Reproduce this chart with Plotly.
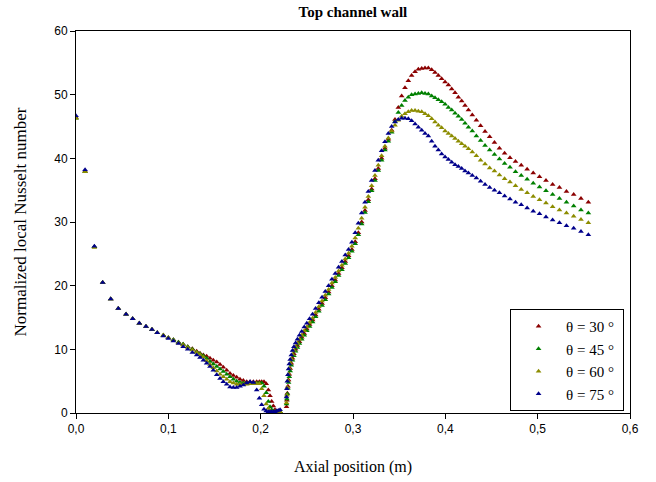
import plotly.graph_objects as go

# Shared axial positions (m)
x_pos = [
    0.0, 0.0098, 0.0199, 0.0289, 0.0376, 0.0458, 0.0542, 0.0614, 0.0686, 0.0758,
    0.0823, 0.0880, 0.0946, 0.1000, 0.1055, 0.1110, 0.1160, 0.1210, 0.1260, 0.1307,
    0.1343, 0.1379, 0.1415, 0.1451, 0.1487, 0.1524, 0.1560, 0.1595, 0.1632, 0.1668,
    0.1704, 0.1740, 0.1776, 0.1812, 0.1849, 0.1885, 0.1921, 0.1957, 0.1986, 0.2011,
    0.2036, 0.2060, 0.2083, 0.2101, 0.2119, 0.2137, 0.2155, 0.2173, 0.2191, 0.2210,
    0.2280, 0.2284, 0.2289, 0.2295, 0.2302, 0.2310, 0.2320, 0.2332, 0.2345, 0.2360,
    0.2378, 0.2398, 0.2420, 0.2445, 0.2472, 0.2500, 0.2530, 0.2562, 0.2595, 0.2630,
    0.2665, 0.2700, 0.2736, 0.2772, 0.2808, 0.2844, 0.2880, 0.2916, 0.2952, 0.2988,
    0.3024, 0.3058, 0.3094, 0.3130, 0.3166, 0.3202, 0.3238, 0.3274, 0.3310, 0.3346,
    0.3383, 0.3419, 0.3455,
    0.3491, 0.3527, 0.3563, 0.3599, 0.3635, 0.3672, 0.3708, 0.3744, 0.3780, 0.3816,
    0.3852, 0.3888, 0.3924, 0.3960, 0.3997, 0.4033, 0.4069, 0.4105, 0.4141, 0.4177,
    0.4213, 0.4250,
    0.4292, 0.4336, 0.4382, 0.4430, 0.4480, 0.4532, 0.4586, 0.4642, 0.4700, 0.4760,
    0.4822, 0.4886, 0.4952, 0.5020, 0.5090, 0.5162, 0.5236, 0.5312, 0.5390, 0.5469,
    0.5549,
]

nu_30 = [
    46.4, 38.0, 26.1, 20.5, 17.9, 16.4, 15.5, 14.8, 14.1, 13.6,
    13.1, 12.6, 12.2, 11.8, 11.5, 11.1, 10.8, 10.4, 10.1, 9.7,
    9.4, 9.1, 8.9, 8.6, 8.3, 8.0, 7.6, 7.2, 6.7, 6.2,
    5.9, 5.6, 5.3, 5.1, 4.9, 4.9, 4.9, 4.9, 4.9, 4.9,
    4.9, 4.6, 3.6, 2.7, 1.8, 1.1, 0.5, 0.3, 0.2, 0.2,
    1.0, 2.0, 3.1, 4.2, 5.2, 6.1, 7.0, 7.8, 8.6, 9.3,
    10.0, 10.6, 11.2, 11.9, 12.5, 13.2, 13.9, 14.6, 15.4, 16.3,
    17.2, 18.1, 19.0, 20.0, 20.9, 21.9, 22.8, 23.8, 24.7, 25.7,
    26.9, 28.3, 30.0, 31.8, 33.5, 35.2, 36.8, 38.4, 40.0, 41.6,
    43.0, 44.4, 46.1,
    48.0, 49.8, 51.1, 52.2, 53.0, 53.6, 54.0, 54.1, 54.2, 54.2,
    53.9, 53.5, 53.0, 52.5, 52.0, 51.5, 50.9, 50.3, 49.6, 49.0,
    48.3, 47.6,
    46.8, 46.0, 45.1, 44.2, 43.4, 42.5, 41.6, 40.8, 40.1, 39.5,
    38.9, 38.3, 37.7, 37.1, 36.5, 35.9, 35.4, 34.8, 34.3, 33.7,
    33.1,
]

nu_45 = [
    46.3, 37.9, 26.1, 20.5, 17.9, 16.4, 15.5, 14.8, 14.1, 13.6,
    13.1, 12.6, 12.2, 11.8, 11.5, 11.1, 10.8, 10.4, 10.0, 9.6,
    9.3, 9.0, 8.6, 8.1, 7.7, 7.3, 6.9, 6.5, 6.1, 5.7,
    5.3, 5.0, 4.8, 4.7, 4.7, 4.7, 4.7, 4.7, 4.7, 4.7,
    4.2, 3.2, 1.8, 1.0, 0.5, 0.3, 0.2, 0.2, 0.2, 0.2,
    1.4, 2.2, 3.0, 3.9, 4.8, 5.7, 6.6, 7.5, 8.3, 9.0,
    9.7, 10.3, 10.9, 11.6, 12.2, 12.9, 13.6, 14.3, 15.1, 16.0,
    16.9, 17.8, 18.7, 19.7, 20.6, 21.6, 22.5, 23.5, 24.4, 25.4,
    26.6, 28.0, 29.7, 31.5, 33.2, 34.9, 36.5, 38.1, 39.7, 41.3,
    42.7, 44.1, 45.8,
    47.2, 48.3, 49.1, 49.6, 50.0, 50.1, 50.2, 50.3, 50.2, 50.1,
    49.8, 49.5, 49.2, 48.9, 48.5, 48.0, 47.6, 47.1, 46.6, 46.1,
    45.5, 44.9,
    44.3, 43.5, 42.8, 42.0, 41.3, 40.6, 39.9, 39.2, 38.6, 37.9,
    37.3, 36.7, 36.1, 35.5, 34.9, 34.3, 33.7, 33.1, 32.5, 31.9,
    31.4,
]

nu_60 = [
    46.3, 37.9, 26.0, 20.5, 17.9, 16.4, 15.5, 14.8, 14.1, 13.6,
    13.1, 12.6, 12.2, 11.8, 11.4, 11.0, 10.7, 10.3, 9.9, 9.5,
    9.2, 8.8, 8.2, 7.6, 7.1, 6.6, 6.1, 5.7, 5.3, 4.9,
    4.7, 4.5, 4.5, 4.5, 4.5, 4.6, 4.6, 4.6, 4.6, 3.8,
    2.7, 1.4, 0.7, 0.3, 0.2, 0.2, 0.2, 0.2, 0.2, 0.2,
    1.6, 2.8, 4.0, 5.1, 6.1, 7.0, 7.8, 8.5, 9.2, 9.8,
    10.4, 11.0, 11.6, 12.2, 12.9, 13.5, 14.2, 14.9, 15.8, 16.7,
    17.6, 18.5, 19.4, 20.4, 21.3, 22.3, 23.2, 24.2, 25.1, 26.2,
    27.5, 29.0, 30.6, 32.3, 34.0, 35.7, 37.3, 38.9, 40.4, 41.9,
    43.2, 44.3, 45.2,
    46.0, 46.6, 47.0, 47.3, 47.5, 47.5, 47.4, 47.3, 47.0, 46.7,
    46.2, 45.7, 45.2, 44.8, 44.3, 43.9, 43.5, 43.1, 42.7, 42.3,
    41.9, 41.5,
    41.0, 40.4, 39.7, 39.1, 38.5, 38.0, 37.4, 36.8, 36.3, 35.7,
    35.1, 34.6, 34.0, 33.5, 33.0, 32.4, 31.9, 31.4, 30.9, 30.4,
    29.9,
]

nu_75 = [
    46.7, 38.2, 26.2, 20.5, 17.9, 16.4, 15.5, 14.8, 14.1, 13.6,
    13.1, 12.6, 12.1, 11.7, 11.3, 10.9, 10.4, 10.0, 9.5, 9.1,
    8.7, 8.3, 7.8, 7.3, 6.7, 6.0, 5.4, 4.9, 4.5, 4.1,
    4.0, 4.0, 4.2, 4.4, 4.7, 4.9, 4.8, 3.6, 2.3, 1.3,
    0.6, 0.3, 0.2, 0.2, 0.2, 0.2, 0.2, 0.3, 0.4, 0.5,
    2.5, 3.8, 5.0, 6.0, 6.9, 7.7, 8.4, 9.1, 9.8, 10.4,
    11.0, 11.6, 12.2, 12.8, 13.5, 14.1, 14.8, 15.5, 16.4, 17.3,
    18.2, 19.1, 20.0, 21.0, 21.9, 22.9, 23.8, 24.8, 25.7, 26.8,
    28.3, 29.8, 31.4, 33.1, 34.8, 36.5, 38.1, 39.7, 41.2, 42.6,
    43.9, 45.0, 45.7,
    46.1, 46.3, 46.3, 46.2, 45.9, 45.4, 44.9, 44.4, 43.9, 43.5,
    42.7, 41.9, 41.3, 40.7, 40.2, 39.8, 39.4, 39.0, 38.7, 38.4,
    38.0, 37.7,
    37.3, 36.9, 36.4, 35.9, 35.4, 35.0, 34.6, 34.1, 33.6, 33.1,
    32.7, 32.2, 31.7, 31.3, 30.8, 30.3, 29.9, 29.4, 29.0, 28.5,
    28.0,
]

series_names = ["θ = 30 °", "θ = 45 °", "θ = 60 °", "θ = 75 °"]
series_values = [nu_30, nu_45, nu_60, nu_75]
series_colors = ["#8b0000", "#008000", "#8c8c00", "#00008b"]

x_ticks = [0.0, 0.1, 0.2, 0.3, 0.4, 0.5, 0.6]
y_ticks = [0, 10, 20, 30, 40, 50, 60]

serif = "Liberation Serif, Times New Roman, serif"
sans = "Liberation Sans, Arial, sans-serif"

fig = go.Figure()
for name, vals, col in zip(series_names, series_values, series_colors):
    fig.add_trace(go.Scatter(
        x=x_pos, y=vals, mode="markers", name=name + "\u00a0",
        marker=dict(symbol="triangle-up", size=5, color=col, line=dict(width=0)),
    ))

fig.update_layout(
    width=656, height=482,
    margin=dict(l=76, r=26, t=31, b=69),
    paper_bgcolor="white", plot_bgcolor="white",
    separators=",.",
    title=dict(text="<b>Top channel wall</b>", x=0.538, xanchor="center",
               y=0.975, yanchor="middle",
               font=dict(family=serif, size=15, color="black")),
    showlegend=True,
    legend=dict(x=0.7835, y=0.272, xanchor="left", yanchor="top",
                bgcolor="white", bordercolor="black", borderwidth=1,
                font=dict(family=serif, size=15, color="black"),
                itemwidth=45, tracegroupgap=0),
    xaxis=dict(range=[0, 0.6], tickvals=x_ticks, tickformat=".1f",
               automargin=False,
               showgrid=False, zeroline=False,
               showline=True, linecolor="black", linewidth=1, mirror=True,
               ticks="outside", ticklen=5, tickcolor="black",
               tickfont=dict(family=sans, size=12, color="black"),
               title=dict(text="Axial position (m)", standoff=25,
                          font=dict(family=serif, size=16, color="black"))),
    yaxis=dict(range=[0, 60], tickvals=y_ticks,
               automargin=False,
               showgrid=False, zeroline=False,
               showline=True, linecolor="black", linewidth=1, mirror=True,
               ticks="outside", ticklen=5, tickcolor="black",
               tickfont=dict(family=sans, size=12, color="black"),
               title=dict(text="Normalized local Nusselt number", standoff=23,
                          font=dict(family=serif, size=17, color="black"))),
)

fig.write_html("out.html")
